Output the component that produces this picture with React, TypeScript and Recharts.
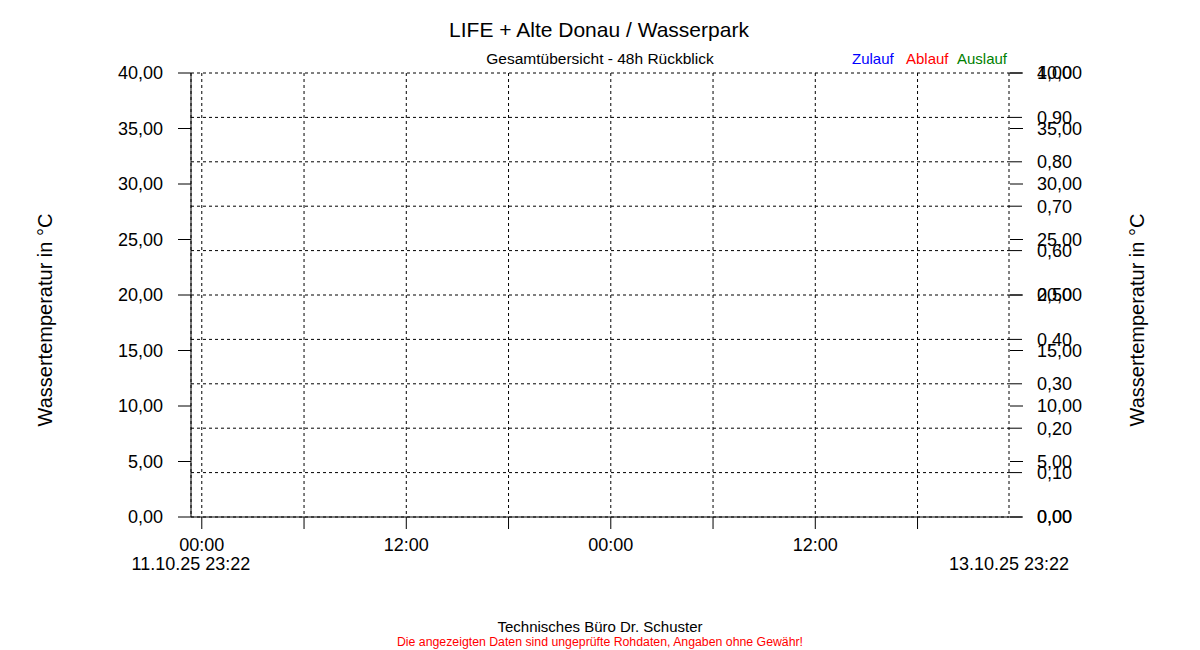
import { CartesianGrid, Line, LineChart, XAxis, YAxis } from "recharts";

// 48h look-back window, x in hours counted from 11.10.25 00:00
// (11.10.25 23:22 -> 13.10.25 23:22)
const hours = [23.367, 71.367];

// no readings in the window -> every series is empty
const zulauf: (number | null)[] = [null, null];
const ablauf: (number | null)[] = [null, null];
const auslauf: (number | null)[] = [null, null];

const timeTicks = [23.367, 24, 30, 36, 42, 48, 54, 60, 66, 71.367];
const edgeLabels = ["11.10.25 23:22", "13.10.25 23:22"];
const tempTicks = [0, 5, 10, 15, 20, 25, 30, 35, 40];
const flowTicks = [0, 0.1, 0.2, 0.3, 0.4, 0.5, 0.6, 0.7, 0.8, 0.9, 1];

const SERIES = [
  { key: "zulauf", name: "Zulauf", color: "#0000FF", legendX: 852 },
  { key: "ablauf", name: "Ablauf", color: "#FF0000", legendX: 906 },
  { key: "auslauf", name: "Auslauf", color: "#008000", legendX: 957 },
];

const data = hours.map((h, i) => ({
  h,
  zulauf: zulauf[i],
  ablauf: ablauf[i],
  auslauf: auslauf[i],
}));

const FONT = 'Arial, "Liberation Sans", sans-serif';
const comma = (digits: number) => (v: number) =>
  v.toFixed(digits).replace(".", ",");

function TimeTick({ x, y, payload }: any) {
  const v = payload.value;
  const last = hours[hours.length - 1];
  if (v === hours[0] || v === last) {
    return (
      <text x={x} y={y + 53} textAnchor="middle" fontSize={18} fill="#000">
        {v === hours[0] ? edgeLabels[0] : edgeLabels[1]}
      </text>
    );
  }
  const clock = v % 24;
  return (
    <g>
      <line x1={x} y1={y} x2={x} y2={y + 12} stroke="#000" />
      {(clock === 0 || clock === 12) && (
        <text x={x} y={y + 34} textAnchor="middle" fontSize={18} fill="#000">
          {clock === 0 ? "00:00" : "12:00"}
        </text>
      )}
    </g>
  );
}

export default function App() {
  const tickStyle = { fill: "#000", fontSize: 18, fontFamily: FONT };
  return (
    <div
      style={{
        position: "absolute",
        left: 0,
        top: 0,
        width: 1200,
        height: 650,
        background: "#fff",
        fontFamily: FONT,
      }}
    >
      <LineChart
        width={1200}
        height={650}
        data={data}
        margin={{ top: 73, right: 189, bottom: 0, left: 0 }}
        style={{ fontFamily: FONT }}
      >
        <CartesianGrid yAxisId="q" stroke="#000" strokeDasharray="3 3" />
        <XAxis
          dataKey="h"
          type="number"
          domain={[hours[0], hours[hours.length - 1]]}
          allowDataOverflow
          ticks={timeTicks}
          interval={0}
          height={133}
          stroke="#000"
          tickLine={false}
          tickSize={0}
          tickMargin={0}
          tick={<TimeTick />}
        />
        <YAxis
          yAxisId="t"
          type="number"
          domain={[0, 40]}
          allowDataOverflow
          ticks={tempTicks}
          interval={0}
          width={191}
          stroke="#000"
          tickSize={13}
          tickMargin={15}
          tick={tickStyle}
          tickFormatter={comma(2)}
        />
        <YAxis
          yAxisId="q"
          type="number"
          orientation="right"
          domain={[0, 1]}
          allowDataOverflow
          ticks={flowTicks}
          interval={0}
          width={1}
          stroke="#000"
          axisLine={false}
          tickSize={13}
          tickMargin={15}
          tick={tickStyle}
          tickFormatter={comma(2)}
        />
        <YAxis
          yAxisId="tr"
          type="number"
          orientation="right"
          domain={[0, 40]}
          allowDataOverflow
          ticks={tempTicks}
          interval={0}
          width={1}
          stroke="#000"
          axisLine={false}
          tickSize={13}
          tickMargin={14}
          tick={tickStyle}
          tickFormatter={comma(2)}
        />
        {SERIES.map((s) => (
          <Line
            key={s.key}
            yAxisId="t"
            dataKey={s.key}
            name={s.name}
            stroke={s.color}
            dot={false}
            isAnimationActive={false}
          />
        ))}
      </LineChart>

      <svg
        width={1200}
        height={650}
        style={{ position: "absolute", left: 0, top: 0, pointerEvents: "none" }}
        fontFamily={FONT}
      >
        <text x={599} y={37} textAnchor="middle" fontSize={21} fill="#000">
          LIFE + Alte Donau / Wasserpark
        </text>
        <text x={600} y={64} textAnchor="middle" fontSize={15.5} fill="#000">
          Gesamtübersicht - 48h Rückblick
        </text>
        {SERIES.map((s) => (
          <text key={s.key} x={s.legendX} y={64} fontSize={15} fill={s.color}>
            {s.name}
          </text>
        ))}
        <text
          x={52}
          y={320}
          textAnchor="middle"
          fontSize={20}
          fill="#000"
          transform="rotate(-90 52 320)"
        >
          Wassertemperatur in °C
        </text>
        <text
          x={1144}
          y={320}
          textAnchor="middle"
          fontSize={20}
          fill="#000"
          transform="rotate(-90 1144 320)"
        >
          Wassertemperatur in °C
        </text>
        <text x={600} y={632} textAnchor="middle" fontSize={15} fill="#000">
          Technisches Büro Dr. Schuster
        </text>
        <text x={600} y={646} textAnchor="middle" fontSize={12.3} fill="#FF0000">
          Die angezeigten Daten sind ungeprüfte Rohdaten, Angaben ohne Gewähr!
        </text>
      </svg>
    </div>
  );
}
